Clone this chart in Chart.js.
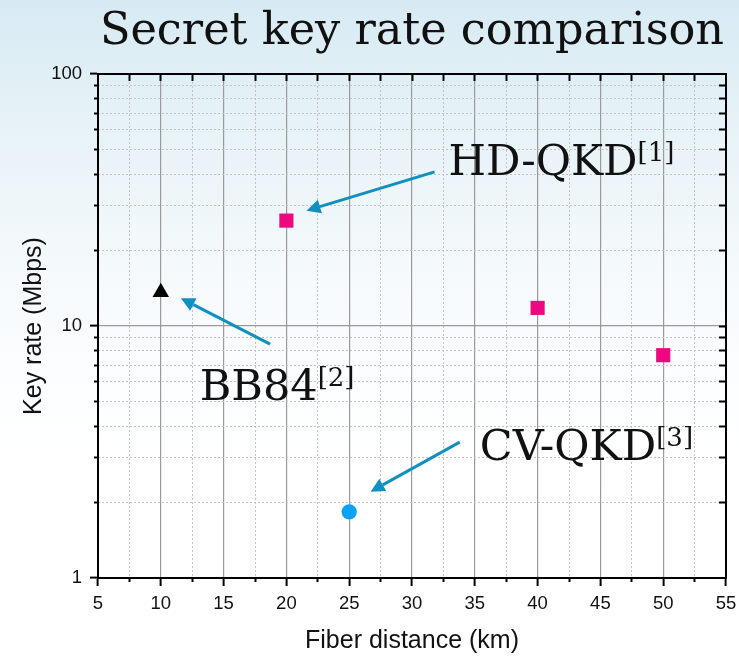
<!DOCTYPE html>
<html>
<head>
<meta charset="utf-8">
<script src="https://cdn.jsdelivr.net/npm/chart.js@4.4.1/dist/chart.umd.min.js"></script>
<style>
  html, body { margin: 0; padding: 0; }
  body {
    width: 739px; height: 656px; overflow: hidden;
    background: linear-gradient(to bottom, #d7eaf3 0%, #e6f2f7 18%, #f4f9fb 40%, #fdfeff 60%, #ffffff 75%);
  }
</style>
</head>
<body>
<canvas id="myChart" width="739" height="656"></canvas>
<script>
// datos
const hdDistancia = [20, 40, 50];
const hdTasa = [26.2, 11.8, 7.66];
const bb84Distancia = [10];
const bb84Tasa = [13.6];
const cvDistancia = [25];
const cvTasa = [1.83];

const etiquetasY = [1, 10, 100];

// anotaciones (en unidades de datos)
const notaTexto = ['HD-QKD', 'BB84', 'CV-QKD'];
const notaRef = ['[1]', '[2]', '[3]'];
const notaX = [32.9, 13.1, 35.4];
const notaY = [39.7, 5.09, 2.94];
const flechaDesdeX = [31.8, 18.7, 33.8];
const flechaDesdeY = [40.9, 8.48, 3.46];
const flechaHastaX = [21.6, 11.6, 26.7];
const flechaHastaY = [28.7, 12.9, 2.2];

const esDecada = v => Math.abs(Math.log10(v) - Math.round(Math.log10(v))) < 1e-9;
const limpiarLog = s => { s.ticks = s.ticks.filter(t => { const m = t.value / Math.pow(10, Math.floor(Math.log10(t.value) + 1e-9)); return Math.abs(m - Math.round(m)) < 1e-9; }); };
const fuenteEje = { family: 'Liberation Sans', size: 18.5 };

const anotaciones = {
    id: 'anotaciones',
    afterDatasetsDraw(chart) {
        const ctx = chart.ctx;
        const x = chart.scales.x;
        const y = chart.scales.y;
        ctx.save();
        for (let i = 0; i < notaTexto.length; i++) {
            const x1 = x.getPixelForValue(flechaDesdeX[i]);
            const y1 = y.getPixelForValue(flechaDesdeY[i]);
            const x2 = x.getPixelForValue(flechaHastaX[i]);
            const y2 = y.getPixelForValue(flechaHastaY[i]);
            const ang = Math.atan2(y2 - y1, x2 - x1);
            const largo = 14, ancho = 7;
            const bx = x2 - largo * Math.cos(ang);
            const by = y2 - largo * Math.sin(ang);
            ctx.strokeStyle = '#1190c0';
            ctx.fillStyle = '#1190c0';
            ctx.lineWidth = 3;
            ctx.beginPath();
            ctx.moveTo(x1, y1);
            ctx.lineTo(bx, by);
            ctx.stroke();
            ctx.beginPath();
            ctx.moveTo(x2, y2);
            ctx.lineTo(bx + ancho * Math.sin(ang), by - ancho * Math.cos(ang));
            ctx.lineTo(bx - ancho * Math.sin(ang), by + ancho * Math.cos(ang));
            ctx.closePath();
            ctx.fill();

            // texto con superindice
            const tx = x.getPixelForValue(notaX[i]);
            const ty = y.getPixelForValue(notaY[i]);
            ctx.fillStyle = '#111';
            ctx.textAlign = 'left';
            ctx.textBaseline = 'alphabetic';
            ctx.font = '43px "DejaVu Serif"';
            ctx.fillText(notaTexto[i], tx, ty);
            const w = ctx.measureText(notaTexto[i]).width;
            ctx.font = '26px "DejaVu Serif"';
            ctx.fillText(notaRef[i], tx + w, ty - 14);
        }
        ctx.restore();
    }
};

const ctx = document.getElementById('myChart').getContext('2d');
const myChart = new Chart(ctx, {
    type: 'scatter',
    data: {
        datasets: [{
            label: 'HD-QKD',
            data: hdDistancia.map((d, i) => ({ x: d, y: hdTasa[i] })),
            pointStyle: 'rect',
            pointRadius: 10,
            borderWidth: 0,
            backgroundColor: '#ee087f',
            borderColor: '#ee087f'
        }, {
            label: 'BB84',
            data: bb84Distancia.map((d, i) => ({ x: d, y: bb84Tasa[i] })),
            pointStyle: 'triangle',
            pointRadius: 9.5,
            borderWidth: 0,
            backgroundColor: '#000',
            borderColor: '#000'
        }, {
            label: 'CV-QKD',
            data: cvDistancia.map((d, i) => ({ x: d, y: cvTasa[i] })),
            pointStyle: 'circle',
            pointRadius: 7.7,
            borderWidth: 0,
            backgroundColor: '#0aa2f5',
            borderColor: '#0aa2f5'
        }]
    },
    options: {
        responsive: false,
        animation: false,
        layout: { padding: 0 },
        plugins: {
            legend: { display: false },
            tooltip: { enabled: false },
            title: {
                display: true,
                text: 'Secret key rate comparison',
                fullSize: false,
                color: '#111',
                font: { family: 'DejaVu Serif', size: 44.6, weight: 'normal' },
                padding: { top: 6, bottom: 14.5 }
            }
        },
        scales: {
            x: {
                type: 'linear', position: 'bottom', min: 5, max: 55, weight: 1,
                ticks: { stepSize: 5, color: '#111', font: fuenteEje, padding: 7, maxRotation: 0, autoSkip: false },
                grid: {
                    color: c => (c.tick && (c.tick.value === 5 || c.tick.value === 55)) ? 'rgba(0,0,0,0)' : '#9a9a9a',
                    lineWidth: 1.2, tickColor: '#000', tickLength: 8, tickWidth: 2
                },
                border: { color: '#000', width: 2 },
                title: { display: true, text: 'Fiber distance (km)', color: '#111', font: { family: 'Liberation Sans', size: 25 }, padding: { top: 0, bottom: 0 } },
                afterFit: s => { s.height = 78; s.paddingLeft = 0; s.paddingRight = 0; }
            },
            xMenor: {
                type: 'linear', position: 'bottom', min: 5, max: 55, weight: 0,
                ticks: { display: false, stepSize: 2.5 },
                grid: {
                    color: c => (c.tick && c.tick.value % 5 !== 0) ? '#c2c2c2' : 'rgba(0,0,0,0)',
                    tickColor: c => (c.tick && c.tick.value % 5 !== 0) ? '#000' : 'rgba(0,0,0,0)',
                    lineWidth: 1, tickLength: 4, tickWidth: 2
                },
                border: { display: false, dash: [2, 2] },
                afterFit: s => { s.height = 0; s.paddingLeft = 0; s.paddingRight = 0; }
            },
            xArriba: {
                type: 'linear', position: 'top', min: 5, max: 55,
                ticks: { display: false, stepSize: 2.5 },
                grid: {
                    drawOnChartArea: false, tickLength: -7, tickWidth: 2,
                    tickColor: c => (c.tick && (c.tick.value === 5 || c.tick.value === 55)) ? 'rgba(0,0,0,0)' : '#000'
                },
                border: { color: '#000', width: 2 },
                afterFit: s => { s.height = 0; s.paddingLeft = 0; s.paddingRight = 0; }
            },
            y: {
                type: 'logarithmic', position: 'left', min: 1, max: 100, weight: 1,
                afterBuildTicks: limpiarLog,
                ticks: {
                    autoSkip: false, color: '#111', font: fuenteEje, padding: 8,
                    callback: v => etiquetasY.includes(v) ? String(v) : ''
                },
                grid: {
                    color: c => (c.tick && c.tick.value === 10) ? '#9a9a9a' : 'rgba(0,0,0,0)',
                    tickColor: c => (c.tick && esDecada(c.tick.value)) ? '#000' : 'rgba(0,0,0,0)',
                    lineWidth: 1.2, tickLength: 8, tickWidth: 2
                },
                border: { color: '#000', width: 2 },
                title: { display: true, text: 'Key rate (Mbps)', color: '#111', font: { family: 'Liberation Sans', size: 25 }, padding: { top: 19, bottom: 0 } },
                afterFit: s => { s.width = 98; }
            },
            yMenor: {
                type: 'logarithmic', position: 'left', min: 1, max: 100, weight: 0,
                afterBuildTicks: limpiarLog,
                ticks: { display: false },
                grid: {
                    color: c => (c.tick && !esDecada(c.tick.value)) ? '#c2c2c2' : 'rgba(0,0,0,0)',
                    tickColor: c => (c.tick && !esDecada(c.tick.value)) ? '#000' : 'rgba(0,0,0,0)',
                    lineWidth: 1, tickLength: 4, tickWidth: 2
                },
                border: { display: false, dash: [2, 2] },
                afterFit: s => { s.width = 0; }
            },
            yDerecha: {
                type: 'logarithmic', position: 'right', min: 1, max: 100,
                afterBuildTicks: limpiarLog,
                ticks: { display: false },
                grid: {
                    drawOnChartArea: false, tickLength: -7, tickWidth: 2,
                    tickColor: c => (c.tick && (c.tick.value === 1 || c.tick.value === 100)) ? 'rgba(0,0,0,0)' : '#000'
                },
                border: { color: '#000', width: 2 },
                afterFit: s => { s.width = 13; }
            }
        }
    },
    plugins: [anotaciones]
});
</script>
</body>
</html>
